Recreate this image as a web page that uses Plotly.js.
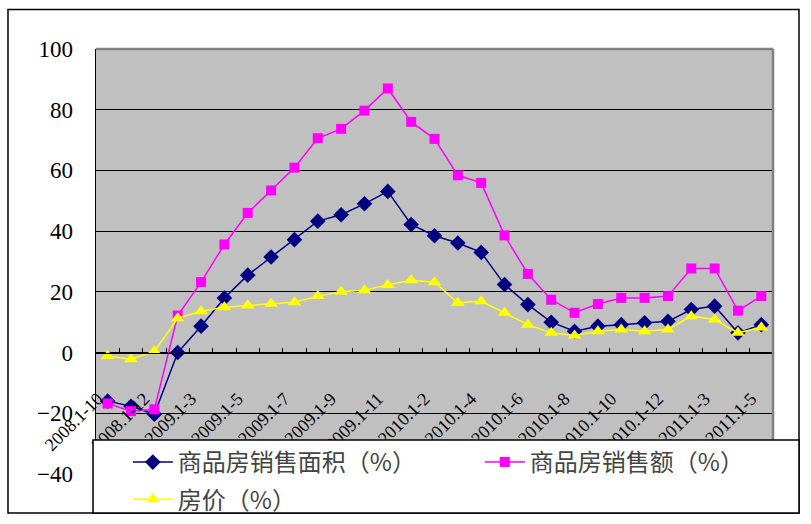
<!DOCTYPE html>
<html>
<head>
<meta charset="utf-8">
<script src="https://cdn.plot.ly/plotly-3.0.1.min.js"></script>
<style>
body { margin: 0; background: #fff; }
#chart { width: 811px; height: 524px; }
</style>
</head>
<body>
<div id="chart"></div>
<script>
// months on the category axis (every other one gets a label)
const categories = [
    '2008.1-10', '2008.1-11', '2008.1-12',
    '2009.1-2', '2009.1-3', '2009.1-4', '2009.1-5', '2009.1-6', '2009.1-7',
    '2009.1-8', '2009.1-9', '2009.1-10', '2009.1-11', '2009.1-12',
    '2010.1-2', '2010.1-3', '2010.1-4', '2010.1-5', '2010.1-6', '2010.1-7',
    '2010.1-8', '2010.1-9', '2010.1-10', '2010.1-11', '2010.1-12',
    '2011.1-2', '2011.1-3', '2011.1-4', '2011.1-5'
];
const tickLabels = categories.map((c, i) => (i % 2 === 0 ? c : ''));

// 商品房销售面积 (%)
const salesArea = [-16.0, -17.7, -20.3, 0.0, 8.7, 18.0, 25.5, 31.5, 37.2, 43.3, 45.4, 49.0, 53.1, 42.2,
    38.5, 36.1, 33.0, 22.4, 15.8, 10.0, 7.0, 8.7, 9.2, 9.8, 10.3, 14.2, 15.3, 6.5, 9.2];
// 商品房销售额 (%)
const salesValue = [-16.8, -19.3, -18.7, 12.2, 23.2, 35.6, 46.0, 53.4, 60.9, 70.6, 73.7, 79.7, 87.0, 76.0,
    70.4, 58.4, 55.9, 38.6, 25.9, 17.4, 13.1, 16.0, 18.0, 18.0, 18.6, 27.7, 27.7, 13.8, 18.6];
// 房价 (%)
const housePrice = [-1.1, -2.2, 0.4, 11.3, 13.6, 14.9, 15.5, 16.1, 16.6, 18.6, 20.0, 20.5, 22.3, 23.8,
    23.2, 16.4, 16.9, 13.1, 9.2, 6.5, 5.6, 7.0, 7.6, 7.0, 7.6, 12.0, 10.9, 6.5, 8.3];

const traces = [
    {
        type: 'scatter', mode: 'lines+markers',
        x: categories, y: salesArea,
        name: '商品房销售面积（%）',
        line: { color: '#000080', width: 1.5 },
        marker: { symbol: 'diamond', size: 12, color: '#000080' },
        legend: 'legend', legendgroup: 'a'
    },
    {
        type: 'scatter', mode: 'lines+markers',
        x: categories, y: salesValue,
        name: '商品房销售额（%）',
        line: { color: '#ff00ff', width: 1.5 },
        marker: { symbol: 'square', size: 10, color: '#ff00ff' },
        legend: 'legend2'
    },
    {
        type: 'scatter', mode: 'lines+markers',
        x: categories, y: housePrice,
        name: '房价（%）',
        line: { color: '#ffff00', width: 1.5 },
        marker: { symbol: 'triangle-up', size: 12, color: '#ffff00' },
        legend: 'legend', legendgroup: 'b'
    }
];

const legendFont = { family: 'Noto Sans CJK SC, sans-serif', size: 24, color: '#444' };
const serifFont = '"Liberation Serif", serif';

const layout = {
    width: 811,
    height: 524,
    margin: { l: 96, r: 38, t: 49, b: 50, autoexpand: false },
    paper_bgcolor: '#ffffff',
    plot_bgcolor: '#c0c0c0',
    showlegend: true,
    xaxis: {
        type: 'category',
        range: [-0.5, categories.length - 0.5],
        autorange: false,
        anchor: 'free',
        position: 40 / 140,
        tickmode: 'array',
        tickvals: categories,
        ticktext: tickLabels,
        tickson: 'boundaries',
        ticks: 'inside',
        ticklen: 5,
        tickcolor: '#000',
        showline: true,
        linecolor: '#000',
        linewidth: 1.5,
        showgrid: false,
        zeroline: false,
        tickangle: -45,
        ticklabelstandoff: 27,
        ticklabelshift: -10,
        tickfont: { family: serifFont, size: 18, color: '#000' }
    },
    yaxis: {
        range: [-40, 100],
        dtick: 20,
        tick0: 0,
        ticks: 'inside',
        ticklen: 6,
        tickcolor: '#000',
        showline: true,
        linecolor: '#000',
        linewidth: 1.5,
        showgrid: true,
        gridcolor: '#000',
        gridwidth: 1,
        zeroline: false,
        ticklabelstandoff: 17,
        tickfont: { family: serifFont, size: 23, color: '#000' }
    },
    legend: {
        x: 0.047, y: 0.08, xanchor: 'left', yanchor: 'top',
        orientation: 'v',
        itemwidth: 40,
        bgcolor: 'rgba(0,0,0,0)',
        borderwidth: 0,
        tracegroupgap: 3,
        font: legendFont
    },
    legend2: {
        x: 0.567, y: 0.08, xanchor: 'left', yanchor: 'top',
        orientation: 'v',
        itemwidth: 40,
        bgcolor: 'rgba(0,0,0,0)',
        borderwidth: 0,
        font: legendFont
    },
    shapes: [
        // outer chart frame
        { type: 'rect', xref: 'paper', yref: 'paper', x0: -0.13, x1: 1.0384, y0: -0.0918, y1: 1.093,
          line: { color: '#000', width: 1.5 }, fillcolor: 'rgba(0,0,0,0)', layer: 'below' },
        // grey top and right edges of the plot area
        { type: 'line', xref: 'paper', yref: 'paper', x0: 0, x1: 1, y0: 1, y1: 1,
          line: { color: '#808080', width: 2.5 }, layer: 'above' },
        { type: 'line', xref: 'paper', yref: 'paper', x0: 1, x1: 1, y0: 1, y1: 0,
          line: { color: '#808080', width: 2.5 }, layer: 'above' },
        // legend box covering the lower part of the plot
        { type: 'rect', xref: 'paper', yref: 'paper', x0: -0.0044, x1: 1.0384, y0: -0.0918, y1: 0.08,
          line: { color: '#000', width: 1.5 }, fillcolor: '#ffffff', layer: 'above' }
    ]
};

Plotly.newPlot('chart', traces, layout, { displayModeBar: false, staticPlot: true });
</script>
</body>
</html>
